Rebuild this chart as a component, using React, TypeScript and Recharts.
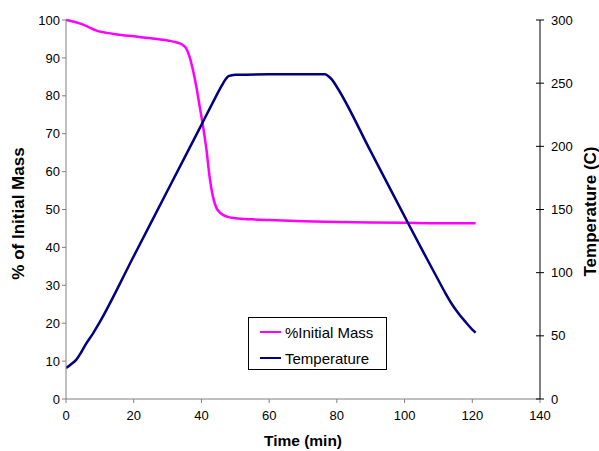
import React from "react";
import { LineChart, Line, XAxis, YAxis, Label } from "recharts";

// time (min) / % of initial mass
const massTime = [
  0, 2, 4, 6.5, 9, 12, 15, 20, 25, 30, 33, 34.5, 35.5, 36.5, 37.5, 38.5, 39.5,
  40.5, 41.5, 42.4, 43.4, 44.5, 45.5, 46.5, 48, 50, 55, 60, 70, 80, 90, 100,
  110, 121,
];
const massValues = [
  100, 99.6, 99.1, 98.2, 97.2, 96.6, 96.2, 95.7, 95.2, 94.6, 94.0, 93.4, 92.5,
  90.3, 86.8, 82.4, 77.1, 71.8, 65.7, 58.7, 53.4, 50.3, 49.2, 48.5, 48.0, 47.7,
  47.4, 47.2, 46.9, 46.7, 46.6, 46.5, 46.4, 46.4,
];

// time (min) / temperature (C)
const tempTime = [
  0, 1.5, 3, 4.5, 6, 8, 10, 20, 30, 40, 44, 46, 47, 48, 50, 60, 70, 76.5, 77.5,
  78.5, 80, 90, 100, 105, 110, 112, 114, 116, 118, 120, 121,
];
const tempValues = [
  24.5, 27.5, 31, 37, 44, 52, 61, 113, 165, 217, 238, 248, 252.5, 255.5, 256.7,
  257, 257, 257, 255.5, 253, 247, 196, 144.5, 119, 94, 84, 75, 67.5, 61, 55,
  52.5,
];

const timeTicks = [0, 20, 40, 60, 80, 100, 120, 140];
const massTicks = [0, 10, 20, 30, 40, 50, 60, 70, 80, 90, 100];
const tempTicks = [0, 50, 100, 150, 200, 250, 300];

const massData = massTime.map((t, i) => ({ t, mass: massValues[i] }));
const tempData = tempTime.map((t, i) => ({ t, temp: tempValues[i] }));

const FONT = "'Liberation Sans', Arial, sans-serif";
const MASS_COLOR = "#FF00FF";
const TEMP_COLOR = "#000080";

const tickStyle = { fontSize: 13, fill: "#000", fontFamily: FONT };

// right axis ticks cross the axis line
function RightTick(props: any) {
  const { x, y, payload } = props;
  const margin = 11;
  return (
    <g>
      <line x1={x - margin - 4} x2={x - margin + 4} y1={y} y2={y} stroke="#000" />
      <text x={x} y={y} dy={4.5} textAnchor="start" {...tickStyle}>
        {payload.value}
      </text>
    </g>
  );
}

function LegendBox() {
  const items = [
    { name: "%Initial Mass", color: MASS_COLOR },
    { name: "Temperature", color: TEMP_COLOR },
  ];
  return (
    <div
      style={{
        position: "absolute",
        left: 248,
        top: 317,
        boxSizing: "border-box",
        width: 139,
        height: 53,
        border: "1px solid #000",
        background: "#fff",
        paddingTop: 1,
        paddingLeft: 11,
        fontFamily: FONT,
        fontSize: 15,
        color: "#000",
      }}
    >
      {items.map((it) => (
        <div
          key={it.name}
          style={{ display: "flex", alignItems: "center", height: 26 }}
        >
          <span
            style={{
              display: "inline-block",
              width: 21,
              height: 2,
              background: it.color,
              marginRight: 4,
            }}
          />
          <span>{it.name}</span>
        </div>
      ))}
    </div>
  );
}

export default function App() {
  return (
    <div
      style={{ position: "relative", width: 599, height: 451, background: "#fff" }}
    >
      <style>{`body{margin:0}`}</style>
      <LineChart
        width={599}
        height={451}
        margin={{ top: 20, right: 20, bottom: 22, left: 20 }}
      >
        <XAxis
          type="number"
          dataKey="t"
          domain={[0, 140]}
          ticks={timeTicks}
          allowDataOverflow
          stroke="#808080"
          tickSize={4}
          tickMargin={8}
          height={30}
          tick={tickStyle}
        >
          <Label
            content={(p: any) => {
              const vb = p.viewBox;
              return (
                <text
                  x={vb.x + vb.width / 2}
                  y={446}
                  textAnchor="middle"
                  fontFamily={FONT}
                  fontWeight="bold"
                  fontSize={15.5}
                  fill="#000"
                >
                  Time (min)
                </text>
              );
            }}
          />
        </XAxis>
        <YAxis
          yAxisId="mass"
          orientation="left"
          domain={[0, 100]}
          ticks={massTicks}
          width={46}
          stroke="#808080"
          tickSize={4}
          tickMargin={2}
          tick={tickStyle}
        >
          <Label
            content={(p: any) => {
              const vb = p.viewBox;
              const cx = 18;
              const cy = vb.y + vb.height / 2 + 4;
              return (
                <text
                  x={cx}
                  y={cy}
                  transform={`rotate(-90 ${cx} ${cy})`}
                  textAnchor="middle"
                  dominantBaseline="central"
                  fontFamily={FONT}
                  fontWeight="bold"
                  fontSize={17}
                  fill="#000"
                >
                  % of Initial Mass
                </text>
              );
            }}
          />
        </YAxis>
        <YAxis
          yAxisId="temp"
          orientation="right"
          domain={[0, 300]}
          ticks={tempTicks}
          width={39}
          stroke="#000"
          tickLine={false}
          tickSize={0}
          tickMargin={11}
          tick={<RightTick />}
        >
          <Label
            content={(p: any) => {
              const vb = p.viewBox;
              const cx = 590;
              const cy = vb.y + vb.height / 2 + 2;
              return (
                <text
                  x={cx}
                  y={cy}
                  transform={`rotate(-90 ${cx} ${cy})`}
                  textAnchor="middle"
                  dominantBaseline="central"
                  fontFamily={FONT}
                  fontWeight="bold"
                  fontSize={17}
                  fill="#000"
                >
                  Temperature (C)
                </text>
              );
            }}
          />
        </YAxis>
        <Line
          yAxisId="mass"
          data={massData}
          dataKey="mass"
          name="%Initial Mass"
          type="monotone"
          stroke={MASS_COLOR}
          strokeWidth={2.5}
          dot={false}
          isAnimationActive={false}
        />
        <Line
          yAxisId="temp"
          data={tempData}
          dataKey="temp"
          name="Temperature"
          type="monotone"
          stroke={TEMP_COLOR}
          strokeWidth={2.5}
          dot={false}
          isAnimationActive={false}
        />
      </LineChart>
      <LegendBox />
    </div>
  );
}
